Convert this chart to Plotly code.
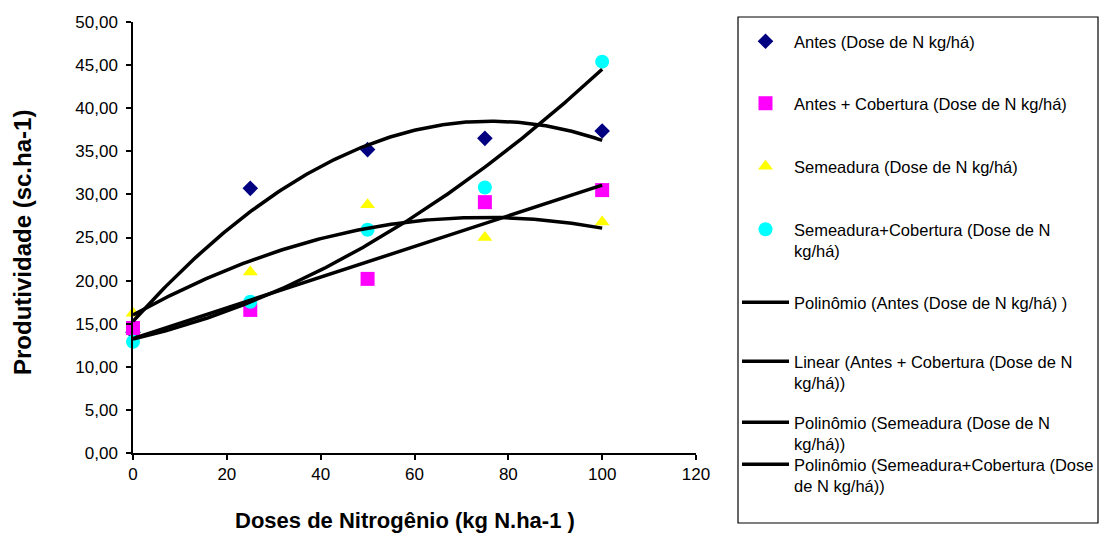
import numpy as np
import plotly.graph_objects as go

doses = [0, 25, 50, 75, 100]
antes = [14.0, 30.7, 35.2, 36.5, 37.35]
antes_cob = [14.5, 16.6, 20.2, 29.1, 30.5]
semeadura = [16.2, 21.0, 28.8, 25.0, 26.8]
semeadura_cob = [12.9, 17.55, 25.9, 30.8, 45.4]

names_pts = ["Antes (Dose de N kg/há)",
             "Antes + Cobertura (Dose de N kg/há)",
             "Semeadura (Dose de N kg/há)",
             "Semeadura+Cobertura (Dose de N<br>kg/há)"]
names_fit = ["Polinômio (Antes (Dose de N kg/há) )",
             "Linear (Antes + Cobertura (Dose de N<br>kg/há))",
             "Polinômio (Semeadura (Dose de N<br>kg/há))",
             "Polinômio (Semeadura+Cobertura (Dose<br>de N kg/há))"]
x_ticks = [0, 20, 40, 60, 80, 100, 120]
y_ticks = [0, 5, 10, 15, 20, 25, 30, 35, 40, 45, 50]

# pixel layout helpers
L, R, T, B = 133, 696, 22, 453
W, H = 1099, 538
def px(x):
    return (x - L) / (R - L)
def py(y):
    return (B - y) / (B - T)

series = [antes, antes_cob, semeadura, semeadura_cob]
symbols = ["diamond", "square", "triangle-up", "circle"]
colors = ["#000080", "#FF00FF", "#FFFF00", "#00FFFF"]
sizes = [12, 14, 13, 14]
degrees = [2, 1, 2, 2]

fig = go.Figure()
legend_tops = [24, 86, 149, 212, 285, 344, 405, 447]
for i, (s, sym, c, sz) in enumerate(zip(series, symbols, colors, sizes)):
    fig.add_trace(go.Scatter(x=doses, y=s, mode="markers", name=names_pts[i],
                             marker=dict(symbol=sym, color=c, size=sz, line=dict(width=0)),
                             cliponaxis=False, showlegend=True,
                             legend="legend" if i == 0 else f"legend{i+1}"))

xs = np.linspace(0, 100, 201)
for i, s in enumerate(series):
    coef = np.polyfit(doses, s, degrees[i])
    fig.add_trace(go.Scatter(x=xs, y=np.polyval(coef, xs), mode="lines", name=names_fit[i],
                             line=dict(color="black", width=3.5), showlegend=True,
                             cliponaxis=False, legend=f"legend{i+5}"))

legend_font = dict(family="Liberation Sans, Arial, sans-serif", size=16.5, color="black")
legends = {}
for k, top in enumerate(legend_tops):
    key = "legend" if k == 0 else f"legend{k+1}"
    legends[key] = dict(x=px(737), y=py(top), xanchor="left", yanchor="top",
                        bgcolor="rgba(0,0,0,0)", borderwidth=0, font=legend_font,
                        itemwidth=47, valign="top", tracegroupgap=0, visible=True)

fig.update_layout(**legends)

fig.update_layout(
    width=W, height=H, showlegend=True,
    margin=dict(l=L, r=W - R, t=T, b=H - B, autoexpand=False),
    paper_bgcolor="white", plot_bgcolor="white",
    separators=",.",
    font=dict(family="Liberation Sans, Arial, sans-serif", size=17, color="black"),
    xaxis=dict(range=[0, 120], tickvals=x_ticks, showgrid=False, zeroline=False,
               showline=True, linecolor="black", linewidth=1.5, ticks="outside",
               ticklen=5, tickcolor="black", tickwidth=1.5,
               tickfont=dict(size=17)),
    yaxis=dict(range=[0, 50], tickvals=y_ticks, tickformat=".2f", showgrid=False,
               zeroline=False, showline=True, linecolor="black", linewidth=1.5,
               ticks="outside", ticklen=5, tickcolor="black", tickwidth=1.5,
               ticklabelstandoff=5, tickfont=dict(size=17)),
    shapes=[dict(type="rect", xref="paper", yref="paper",
                 x0=px(738), x1=px(1098), y0=py(523), y1=py(17),
                 line=dict(color="black", width=1.2), fillcolor="rgba(0,0,0,0)")],
    annotations=[
        dict(text="<b>Doses de Nitrogênio (kg N.ha-1 )</b>", xref="paper", yref="paper",
             x=px(405), y=py(520), showarrow=False, font=dict(size=22),
             xanchor="center", yanchor="middle"),
        dict(text="<b>Produtividade (sc.ha-1)</b>", xref="paper", yref="paper",
             x=px(22), y=py(243), showarrow=False, font=dict(size=24), textangle=-90,
             xanchor="center", yanchor="middle"),
    ],
)

fig.write_html("out.html")
